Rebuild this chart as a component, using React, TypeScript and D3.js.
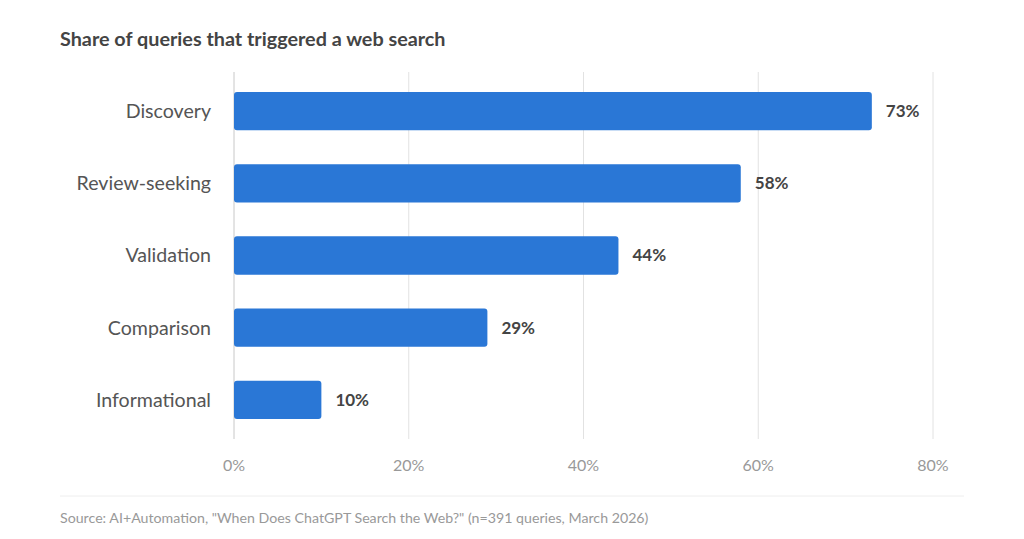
import * as d3 from 'd3';

const categories = ['Discovery', 'Review-seeking', 'Validation', 'Comparison', 'Informational'];
const shares = [73, 58, 44, 29, 10];
const ticks = [0, 20, 40, 60, 80];

const W = 1024;
const H = 539;

export default function App() {
  const x = d3.scaleLinear().domain([0, 80]).range([234, 933]);
  const y = d3.scaleBand<string>().domain(categories).range([75, 436]).paddingInner(0.47).paddingOuter(0.235);
  const font = 'Lato, "Open Sans", sans-serif';

  return (
    <svg width={W} height={H} style={{ position: 'absolute', left: 0, top: 0, background: '#fff' }} fontFamily={font}>
      <text x={60} y={46} fontSize={19.8} fontWeight={700} fill="#444">
        Share of queries that triggered a web search
      </text>

      {ticks.map(t => (
        <g key={t}>
          <line x1={x(t)} x2={x(t)} y1={72} y2={439} stroke={t === 0 ? '#c8c8c8' : '#e2e2e2'} strokeWidth={1} />
          <text x={x(t)} y={471} fontSize={16} fill="#999" textAnchor="middle">{t}%</text>
        </g>
      ))}

      {categories.map((c, i) => {
        const y0 = y(c)!;
        const cy = y0 + y.bandwidth() / 2;
        return (
          <g key={c}>
            <text x={211} y={cy} dy="0.35em" fontSize={19.6} fill="#555" textAnchor="end">{c}</text>
            <rect x={x(0)} y={y0} width={x(shares[i]) - x(0)} height={y.bandwidth()} rx={3} fill="#2a77d6" />
            <text x={x(shares[i]) + 14} y={cy} dy="0.35em" fontSize={17} fontWeight={700} fill="#444">{shares[i]}%</text>
          </g>
        );
      })}

      <line x1={60} x2={964} y1={496} y2={496} stroke="#eee" />
      <text x={60} y={523} fontSize={14.2} fill="#999">
        Source: AI+Automation, "When Does ChatGPT Search the Web?" (n=391 queries, March 2026)
      </text>
    </svg>
  );
}
